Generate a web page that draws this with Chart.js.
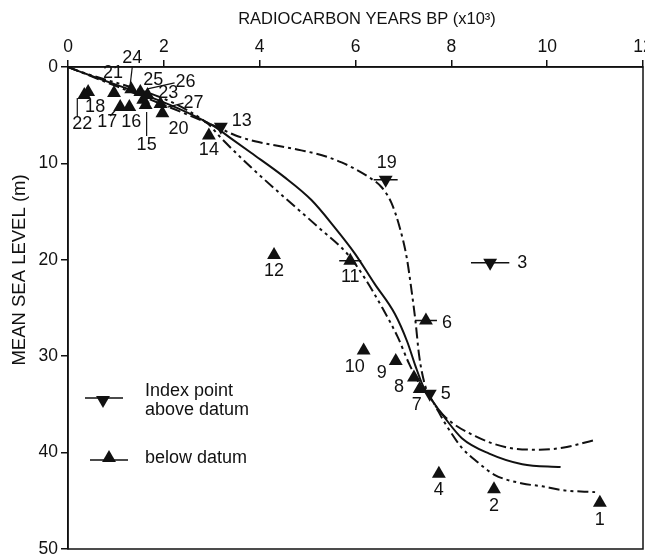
<!DOCTYPE html>
<html>
<head>
<meta charset="utf-8">
<script src="https://cdn.jsdelivr.net/npm/chart.js@4.4.1/dist/chart.umd.min.js"></script>
<style>
  html, body { margin: 0; padding: 0; background: #fff; overflow: hidden; }
  #wrap { width: 645px; height: 558px; }
</style>
</head>
<body>
<div id="wrap"><canvas id="chart"></canvas></div>
<script>
// index points below datum (upward triangles): sample number, age (ka BP), depth (m)
const belowIds = [1, 2, 4, 6, 7, 8, 9, 10, 11, 12, 14, 15, 16, 17, 18, 20, 21, 22, 23, 24, 25, 26, 27];
const belowAge = [11.1, 8.89, 7.74, 7.47, 7.34, 7.22, 6.84, 6.17, 5.89, 4.3, 2.94, 1.62, 1.28, 1.09, 0.42, 1.97, 0.96, 0.34, 1.57, 1.32, 1.51, 1.66, 1.93];
const belowDepth = [45.2, 43.8, 42.2, 26.3, 33.4, 32.2, 30.5, 29.4, 20.1, 19.5, 7.1, 3.95, 4.15, 4.15, 2.6, 4.8, 2.7, 2.9, 3.4, 2.3, 2.6, 2.9, 3.85];

// index points above datum (downward triangles)
const aboveIds = [3, 5, 13, 19];
const aboveAge = [8.81, 7.55, 3.19, 6.63];
const aboveDepth = [20.3, 33.9, 6.2, 11.7];

// horizontal age error bars
const errIds = [19, 11, 6, 3];
const errAge = [6.63, 5.89, 7.47, 8.81];
const errDepth = [11.7, 20.1, 26.3, 20.3];
const errHalf = [0.25, 0.23, 0.23, 0.4];

// sea-level curves
const upperAge = [0, 3.1, 3.5, 3.9, 4.4, 4.87, 5.3, 5.71, 6.0, 6.27, 6.55, 6.75, 6.92, 7.07, 7.17, 7.25, 7.33, 7.45, 7.6, 7.85, 8.5, 9.2, 9.84, 10.32, 11.0];
const upperDepth = [0, 6.2, 7.1, 7.7, 8.2, 8.65, 9.15, 9.9, 10.6, 11.4, 12.5, 14.1, 16.6, 19.8, 23.2, 26.3, 30.0, 33.0, 34.6, 36.2, 38.3, 39.5, 39.7, 39.5, 38.7];
const middleAge = [0, 3.0, 3.4, 3.82, 4.51, 5.08, 5.56, 5.98, 6.4, 6.82, 7.08, 7.25, 7.42, 7.6, 7.85, 8.22, 8.79, 9.48, 10.28];
const middleDepth = [0, 6.0, 7.4, 8.9, 11.4, 13.8, 16.6, 19.3, 22.5, 25.6, 28.5, 31.0, 33.2, 34.6, 36.3, 38.5, 40.1, 41.2, 41.5];
const lowerAge = [0, 2.9, 3.2, 3.82, 4.51, 5.22, 5.85, 6.18, 6.55, 6.88, 7.12, 7.35, 7.6, 7.85, 8.22, 8.55, 8.9, 9.48, 9.9, 10.32, 11.0];
const lowerDepth = [0, 5.8, 7.4, 10.4, 13.5, 16.6, 19.5, 21.8, 24.9, 28.0, 30.8, 33.0, 34.6, 36.8, 39.5, 41.0, 42.3, 43.2, 43.5, 43.9, 44.1];

const ageTicks = [0, 2, 4, 6, 8, 10, 12];
const depthTicks = [0, 10, 20, 30, 40, 50];

// label placement (pixel offset from the point) and leader lines
const labelOffset = {
  1: [0, 17], 2: [0, 17], 3: [32, 0], 4: [0, 16], 5: [16, 0], 6: [21, 2], 7: [-3, 16],
  8: [-15, 10], 9: [-14, 12], 10: [-9, 17], 11: [0, 16], 12: [0, 16], 13: [21, -6],
  14: [0, 15], 15: [1, 40], 16: [2, 15], 17: [-13, 15], 18: [7, 15], 19: [1, -17],
  20: [16, 16], 21: [-1, -20], 22: [-2, 29], 23: [25, -7], 24: [1, -31], 25: [13, -12],
  26: [38, -13], 27: [33, -1]
};
const leaders = {
  22: [-7, 3, -7, 22], 24: [-1, -5, 1, -22], 17: [-10, 9, -2, 0],
  15: [1, 7, 1, 31], 26: [0, -6, 27, -12], 27: [7, 3, 23, -1]
};

const ink = '#111';
const FONT = '"Liberation Sans", Arial, Helvetica, sans-serif';

function pts(xs, ys) { return xs.map((x, i) => ({ x: x, y: ys[i] })); }

const errData = [];
errAge.forEach((a, i) => {
  errData.push({ x: a - errHalf[i], y: errDepth[i] });
  errData.push({ x: a + errHalf[i], y: errDepth[i] });
  errData.push({ x: a, y: null });
});

const frame = {
  id: 'frame',
  afterDraw(chart) {
    const { ctx, chartArea: a } = chart;
    ctx.save();
    ctx.strokeStyle = ink;
    ctx.lineWidth = 1.5;
    ctx.strokeRect(a.left, a.top, a.right - a.left, a.bottom - a.top);
    ctx.restore();
  }
};

const titles = {
  id: 'titles',
  afterDraw(chart) {
    const { ctx, chartArea: a } = chart;
    ctx.save();
    ctx.fillStyle = ink;
    ctx.textBaseline = 'middle';
    ctx.textAlign = 'center';
    ctx.font = '16.5px ' + FONT;
    ctx.fillText('RADIOCARBON YEARS BP (x10\u00B3)', a.left + 299, 19);
    ctx.translate(20, a.top + 203);
    ctx.rotate(-Math.PI / 2);
    ctx.font = '18.5px ' + FONT;
    ctx.fillText('MEAN SEA LEVEL (m)', 0, 0);
    ctx.restore();
  }
};

function tri(ctx, x, y, r, down) {
  ctx.beginPath();
  const s = down ? -1 : 1;
  ctx.moveTo(x, y - s * r);
  ctx.lineTo(x + r * 0.866, y + s * r * 0.5);
  ctx.lineTo(x - r * 0.866, y + s * r * 0.5);
  ctx.closePath();
  ctx.fill();
}

const legendBox = {
  id: 'legendBox',
  afterDraw(chart) {
    const { ctx, chartArea: a } = chart;
    const L = a.left, T = a.top;
    ctx.save();
    ctx.fillStyle = ink;
    ctx.strokeStyle = ink;
    ctx.lineWidth = 1.5;
    ctx.beginPath();
    ctx.moveTo(L + 17, T + 331); ctx.lineTo(L + 55, T + 331);
    ctx.moveTo(L + 22, T + 393); ctx.lineTo(L + 60, T + 393);
    ctx.stroke();
    tri(ctx, L + 35, T + 333, 8, true);
    tri(ctx, L + 41, T + 391, 8, false);
    ctx.font = '18px ' + FONT;
    ctx.textBaseline = 'middle';
    ctx.textAlign = 'left';
    ctx.fillText('Index point', L + 77, T + 324);
    ctx.fillText('above datum', L + 77, T + 343);
    ctx.fillText('below datum', L + 77, T + 391);
    ctx.restore();
  }
};

const pointLabels = {
  id: 'pointLabels',
  afterDatasetsDraw(chart) {
    const { ctx, scales } = chart;
    const all = [];
    belowIds.forEach((id, i) => all.push([id, belowAge[i], belowDepth[i]]));
    aboveIds.forEach((id, i) => all.push([id, aboveAge[i], aboveDepth[i]]));
    ctx.save();
    ctx.fillStyle = ink;
    ctx.strokeStyle = ink;
    ctx.lineWidth = 1.2;
    ctx.font = '18px ' + FONT;
    ctx.textAlign = 'center';
    ctx.textBaseline = 'middle';
    all.forEach(([id, a, d]) => {
      const px = scales.x.getPixelForValue(a);
      const py = scales.y.getPixelForValue(d);
      const off = labelOffset[id] || [0, 16];
      ctx.fillText(String(id), px + off[0], py + off[1]);
      const l = leaders[id];
      if (l) {
        ctx.beginPath();
        ctx.moveTo(px + l[0], py + l[1]);
        ctx.lineTo(px + l[2], py + l[3]);
        ctx.stroke();
      }
    });
    ctx.restore();
  }
};

// let the last tick label hang over the edge instead of shrinking the plot
function noPad(s) {
  s.paddingLeft = 0; s.paddingRight = 0; s.paddingTop = 0; s.paddingBottom = 0;
}

new Chart(document.getElementById('chart'), {
  type: 'scatter',
  data: {
    datasets: [
      {
        label: 'below datum',
        data: pts(belowAge, belowDepth),
        pointStyle: 'triangle',
        pointRadius: 8,
        backgroundColor: ink,
        borderColor: ink,
        borderWidth: 0
      },
      {
        label: 'Index point above datum',
        data: pts(aboveAge, aboveDepth),
        pointStyle: 'triangle',
        rotation: 180,
        pointRadius: 8,
        backgroundColor: ink,
        borderColor: ink,
        borderWidth: 0
      },
      {
        label: 'error',
        data: errData,
        showLine: true,
        spanGaps: false,
        pointRadius: 0,
        borderColor: ink,
        borderWidth: 1.5
      },
      {
        label: 'upper',
        data: pts(upperAge, upperDepth),
        showLine: true,
        pointRadius: 0,
        borderColor: ink,
        borderWidth: 2,
        borderDash: [11, 4, 3, 4],
        cubicInterpolationMode: 'monotone'
      },
      {
        label: 'middle',
        data: pts(middleAge, middleDepth),
        showLine: true,
        pointRadius: 0,
        borderColor: ink,
        borderWidth: 2,
        cubicInterpolationMode: 'monotone'
      },
      {
        label: 'lower',
        data: pts(lowerAge, lowerDepth),
        showLine: true,
        pointRadius: 0,
        borderColor: ink,
        borderWidth: 2,
        borderDash: [11, 4, 3, 4, 3, 4],
        cubicInterpolationMode: 'monotone'
      }
    ]
  },
  options: {
    responsive: true,
    maintainAspectRatio: false,
    animation: false,
    layout: { autoPadding: false, padding: { left: 0, top: 0, right: 2, bottom: 9 } },
    plugins: { legend: { display: false }, tooltip: { enabled: false } },
    scales: {
      x: {
        type: 'linear',
        position: 'top',
        min: 0,
        max: 12,
        afterBuildTicks: (s) => { s.ticks = ageTicks.map(v => ({ value: v })); },
        afterFit: (s) => { s.height = 67; noPad(s); },
        ticks: { color: ink, font: { family: FONT, size: 17.5 }, padding: 2, maxRotation: 0 },
        grid: { drawOnChartArea: false, color: ink, tickLength: 7, lineWidth: 1.5 },
        border: { color: ink, width: 1.5 }
      },
      y: {
        type: 'linear',
        reverse: true,
        min: 0,
        max: 50,
        afterBuildTicks: (s) => { s.ticks = depthTicks.map(v => ({ value: v })); },
        afterFit: (s) => { s.width = 68; noPad(s); },
        ticks: { color: ink, font: { family: FONT, size: 17.5 }, padding: 3 },
        grid: { drawOnChartArea: false, color: ink, tickLength: 7, lineWidth: 1.5 },
        border: { color: ink, width: 1.5 }
      }
    }
  },
  plugins: [frame, titles, legendBox, pointLabels]
});
</script>
</body>
</html>
